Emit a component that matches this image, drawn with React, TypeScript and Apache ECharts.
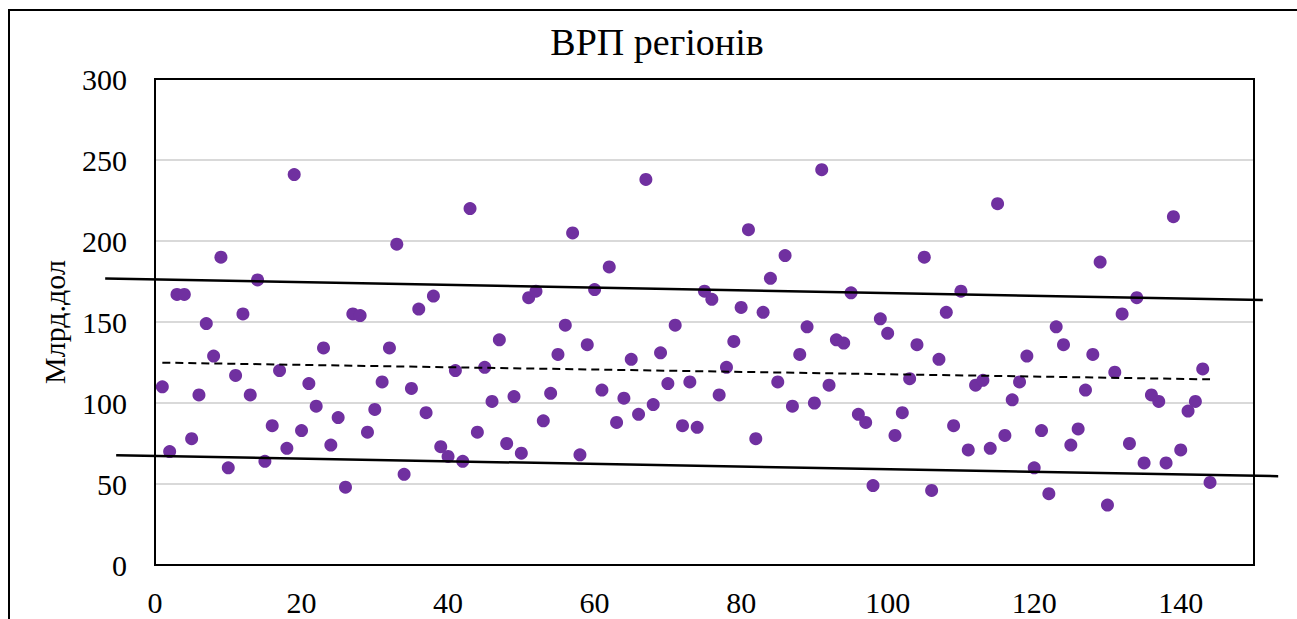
import React, { useEffect, useRef } from "react";
import * as echarts from "echarts";

const titleText = "ВРП регіонів";
const yAxisName = "Млрд.дол";

// GRP values of regions 1..144 (billion USD)
const grpValues: number[] = [
  110, 70, 167, 167, 78, 105, 149, 129, 190, 60,
  117, 155, 105, 176, 64, 86, 120, 72, 241, 83,
  112, 98, 134, 74, 91, 48, 155, 154, 82, 96,
  113, 134, 198, 56, 109, 158, 94, 166, 73, 67,
  120, 64, 220, 82, 122, 101, 139, 75, 104, 69,
  165, 169, 89, 106, 130, 148, 205, 68, 136, 170,
  108, 184, 88, 103, 127, 93, 238, 99, 131, 112,
  148, 86, 113, 85, 169, 164, 105, 122, 138, 159,
  207, 78, 156, 177, 113, 191, 98, 130, 147, 100,
  244, 111, 139, 137, 168, 93, 88, 49, 152, 143,
  80, 94, 115, 136, 190, 46, 127, 156, 86, 169,
  71, 111, 114, 72, 223, 80, 102, 113, 129, 60,
  83, 44, 147, 136, 74, 84, 108, 130, 187, 37,
  119, 155, 75, 165, 63, 105, 101, 63, 215, 71,
  95, 101, 121, 51,
];

// trend line and band end points [x1, y1, x2, y2]
const trendLine: number[] = [1, 124.9, 144, 114.6];
const upperBand: number[] = [-6.8, 176.8, 151.2, 163.6];
const lowerBand: number[] = [-5.3, 67.7, 153.3, 54.8];

const xTicks = { min: 0, max: 150, interval: 20 };
const yTicks = { min: 0, max: 300, interval: 50 };

const FONT = "Liberation Serif";

function segmentSeries(seg: number[], width: number, dash: number[] | null) {
  return {
    type: "custom",
    clip: false,
    silent: true,
    z: 4,
    data: [seg],
    encode: { x: [0, 2], y: [1, 3] },
    renderItem: (_params: any, api: any) => {
      const p1 = api.coord([api.value(0), api.value(1)]);
      const p2 = api.coord([api.value(2), api.value(3)]);
      return {
        type: "line",
        shape: { x1: p1[0], y1: p1[1], x2: p2[0], y2: p2[1] },
        style: {
          stroke: "#000",
          lineWidth: width,
          lineDash: dash || undefined,
          fill: null,
        },
      };
    },
  };
}

export default function App() {
  const ref = useRef<HTMLDivElement>(null);

  useEffect(() => {
    if (!ref.current) return;
    const chart = echarts.init(ref.current, undefined, { renderer: "svg" });
    const points = grpValues.map((v, i) => [i + 1, v]);
    chart.setOption({
      animation: false,
      backgroundColor: "transparent",
      textStyle: { fontFamily: FONT },
      graphic: [
        {
          type: "text",
          x: 657,
          y: 42,
          style: {
            text: titleText,
            fontFamily: FONT,
            fontSize: 38,
            fill: "#000",
            textAlign: "center",
            textVerticalAlign: "middle",
          },
        },
        {
          type: "rect",
          shape: { x: 155, y: 79, width: 1099, height: 486 },
          style: { fill: null, stroke: "#000", lineWidth: 2 },
          z: 10,
          silent: true,
        },
      ],
      grid: {
        left: 155,
        top: 79,
        right: 43,
        bottom: 54,
        show: false,
        outerBoundsMode: "none",
        containLabel: false,
      },
      xAxis: {
        type: "value",
        min: xTicks.min,
        max: xTicks.max,
        interval: xTicks.interval,
        axisLine: { show: false },
        axisTick: { show: false },
        splitLine: { show: false },
        axisLabel: {
          showMaxLabel: false,
          color: "#000",
          fontFamily: FONT,
          fontSize: 30,
          margin: 22,
        },
      },
      yAxis: {
        type: "value",
        min: yTicks.min,
        max: yTicks.max,
        interval: yTicks.interval,
        name: yAxisName,
        nameLocation: "middle",
        nameRotate: 90,
        nameGap: 86,
        nameTextStyle: { color: "#000", fontFamily: FONT, fontSize: 30 },
        axisLine: { show: false },
        axisTick: { show: false },
        splitLine: { show: true, lineStyle: { color: "#d9d9d9", width: 2 } },
        axisLabel: {
          color: "#000",
          fontFamily: FONT,
          fontSize: 30,
          margin: 28,
        },
      },
      series: [
        {
          type: "scatter",
          data: points,
          symbol: "circle",
          symbolSize: 13,
          itemStyle: { color: "#7030A0", opacity: 1 },
          z: 3,
        },
        segmentSeries(trendLine, 2, [8, 5]),
        segmentSeries(upperBand, 2.5, null),
        segmentSeries(lowerBand, 2.5, null),
      ],
    });
    return () => chart.dispose();
  }, []);

  return (
    <div
      style={{
        position: "fixed",
        left: 0,
        top: 0,
        width: 1297,
        height: 619,
        overflow: "hidden",
        background: "#fff",
      }}
    >
      <div
        style={{
          position: "absolute",
          left: 8,
          top: 9,
          width: 1400,
          height: 800,
          border: "2px solid #000",
          boxSizing: "border-box",
        }}
      />
      <div
        ref={ref}
        style={{ position: "absolute", left: 0, top: 0, width: 1297, height: 619 }}
      />
    </div>
  );
}
